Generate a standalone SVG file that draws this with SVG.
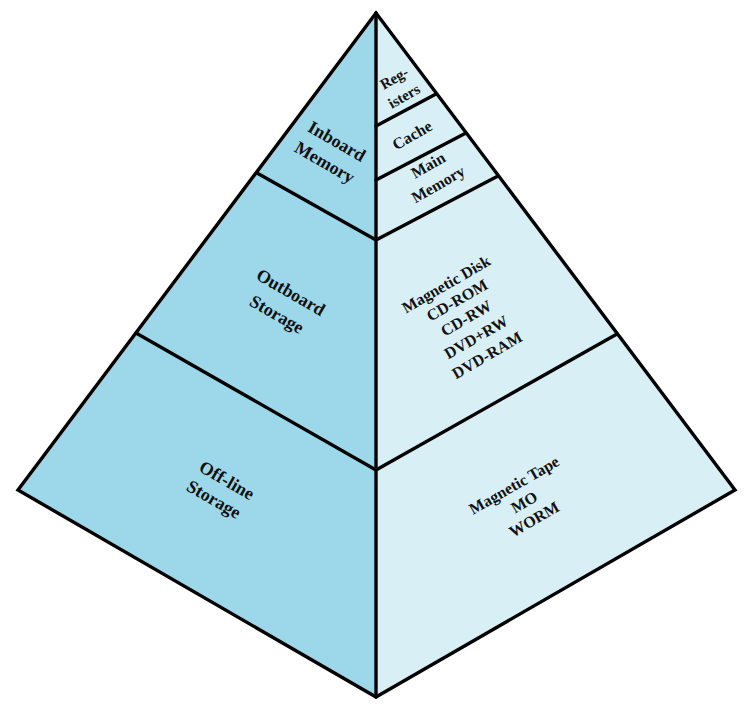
<svg xmlns="http://www.w3.org/2000/svg" width="750" height="706" viewBox="0 0 750 706">
<style>
.left{fill:#9dd8ea;stroke:none}
.right{fill:#d9eff6;stroke:none}
.edge{fill:none;stroke:#000;stroke-width:3.4;stroke-linejoin:miter;stroke-linecap:round}
text{font-family:"Liberation Serif","Times New Roman",serif;font-weight:bold;fill:#111;text-anchor:middle}
.lg{font-size:18px}
.md{font-size:16px}
.sm{font-size:15px}
</style>
<rect width="750" height="706" fill="#fff"/>
<g id="faces">
<polygon class="left" points="376,13 18,490 376,697"/>
<polygon class="right" points="376,13 376,697 735,490"/>
</g>
<g id="connectors">
<polygon class="edge" points="376,13 18,490 376,697 735,490"/>
<line class="edge" x1="376" y1="13" x2="376" y2="697"/>
<line class="edge" x1="257" y1="173" x2="376" y2="240"/>
<line class="edge" x1="136" y1="333" x2="376" y2="470"/>
<line class="edge" x1="376" y1="126" x2="436" y2="94"/>
<line class="edge" x1="376" y1="180" x2="466" y2="133"/>
<line class="edge" x1="376" y1="240" x2="498" y2="176"/>
<line class="edge" x1="376" y1="470" x2="617" y2="334"/>
</g>
<g id="inboard-memory">
<text class="lg" dy="0.35em" transform="translate(337,141) rotate(30)">Inboard</text>
<text class="lg" dy="0.35em" transform="translate(325,162) rotate(30)">Memory</text>
</g>
<g id="outboard-storage">
<text class="lg" dy="0.35em" transform="translate(291,292) rotate(30)">Outboard</text>
<text class="lg" dy="0.35em" transform="translate(277,314) rotate(30)">Storage</text>
</g>
<g id="offline-storage">
<text class="lg" dy="0.35em" transform="translate(227,480) rotate(30)">Off-line</text>
<text class="lg" dy="0.35em" transform="translate(214,499) rotate(30)">Storage</text>
</g>
<g id="registers">
<text class="sm" dy="0.35em" transform="translate(394,78) rotate(-30)">Reg-</text>
<text class="sm" dy="0.35em" transform="translate(404,96) rotate(-30)">isters</text>
</g>
<g id="cache">
<text class="md" dy="0.35em" transform="translate(412,135) rotate(-30)">Cache</text>
</g>
<g id="main-memory">
<text class="md" dy="0.35em" transform="translate(428,165) rotate(-30)">Main</text>
<text class="md" dy="0.35em" transform="translate(438,184) rotate(-30)">Memory</text>
</g>
<g id="outboard-media">
<text class="md" dy="0.35em" transform="translate(446,284) rotate(-30)">Magnetic Disk</text>
<text class="md" dy="0.35em" transform="translate(457,300) rotate(-30)">CD-ROM</text>
<text class="md" dy="0.35em" transform="translate(466,318) rotate(-30)">CD-RW</text>
<text class="md" dy="0.35em" transform="translate(476,337) rotate(-30)">DVD+RW</text>
<text class="md" dy="0.35em" transform="translate(487,355) rotate(-30)">DVD-RAM</text>
</g>
<g id="offline-media">
<text class="md" dy="0.35em" transform="translate(514,485) rotate(-30)">Magnetic Tape</text>
<text class="md" dy="0.35em" transform="translate(524,502) rotate(-30)">MO</text>
<text class="md" dy="0.35em" transform="translate(534,519) rotate(-30)">WORM</text>
</g>
</svg>
